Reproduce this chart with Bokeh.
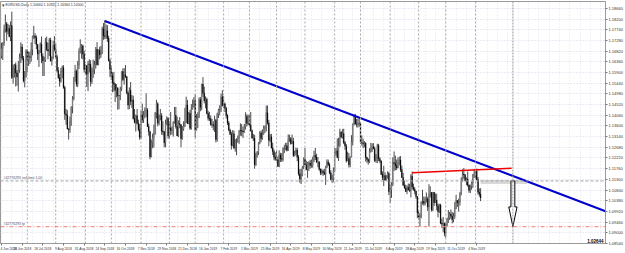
from bokeh.plotting import figure
from bokeh.models import Range1d, FixedTicker, PrintfTickFormatter, Span, Label
from bokeh.embed import file_html
from bokeh.resources import INLINE
from bokeh.core.properties import value

# ---- EURUSD daily bars, values in pips above 1.0000 (e.g. 1694 -> 1.1694) ----
opens = [
 1660,1694,1716,1774,1800,1767,1780,1745,1792,1569,1608,1623,1588,1571,1600,1655,1700,1651,1555,1570,
 1684,1645,1658,1656,1688,1746,1747,1740,1711,1670,1685,1712,1660,1641,1644,1720,1689,1683,1730,1640,1656,1707,
 1690,1658,1598,1568,1553,1595,1611,1526,1411,1406,1347,1343,1378,1440,1478,1569,1596,1540,1622,1680,1700,1705,1670,
 1603,1620,1583,1627,1625,1551,1595,1602,1625,1690,1624,1686,1667,1673,1778,1748,1746,1770,1738,1641,
 1604,1576,1547,1539,1514,1524,1491,1490,1520,1594,1560,1580,1572,1502,1450,1514,1465,1472,1391,1375,1404,1371,1345,
 1311,1408,1387,1408,1428,1429,1358,1335,1227,1288,1310,1328,1415,1455,1372,1400,1404,1338,1334,1288,1371,1392,
 1317,1352,1340,1342,1375,1406,1357,1317,1370,1365,1306,1347,1360,1376,1450,1370,1414,1350,1433,1444,
 1468,1342,1393,1397,1473,1440,1540,1501,1468,1475,1413,1393,1391,1365,1366,1361,1384,1302,1409,1429,1432,1485,
 1447,1455,1436,1405,1373,1342,1324,1276,1326,1265,1295,1295,1310,1341,1340,1338,1334,1358,1401,1371,
 1370,1364,1339,1307,1307,1193,1235,1246,1287,1330,1306,1325,1351,1352,1417,1373,1298,1313,1266,1250,1225,
 1217,1214,1186,1235,1219,1216,1262,1263,1275,1255,1302,1305,1284,1294,1233,1246,1256,1225,1154,1131,1150,1183,
 1217,1193,1171,1200,1200,1190,1191,1215,1233,1226,1205,1205,1173,1157,1166,1159,1152,1183,1205,1193,1158,1130,1130,
 1167,1242,1253,1224,1276,1333,1312,1327,1288,1273,1210,1220,1193,1226,1293,1369,1400,1368,1367,1372,
 1371,1288,1287,1284,1285,1224,1215,1208,1252,1259,1270,1262,1210,1226,1276,1219,1209,1151,1138,1146,1127,1143,1155,
 1077,1085,1108,1202,1198,1189,1180,1202,1213,1172,1138,1105,1092,1078,1096,1084,1082,1143,1097,1087,1079,1056,
 986,968,972,1034,1034,1027,1045,1045,1011,1065,1073,999,1074,1029,1041,1016,991,1019,941,937,940,
 898,933,958,965,981,971,956,972,1004,1039,1029,1032,1069,1125,1153,1149,1125,1131,1105,1082,1100,1114,1150,
 1152,1165,1128,1074,1066,
]
highs = [
 1718,1721,1796,1840,1808,1800,1795,1810,1852,1624,1627,1633,1600,1640,1672,1720,1713,1661,1596,1690,
 1690,1680,1679,1720,1749,1791,1759,1750,1712,1686,1720,1745,1673,1658,1739,1745,1718,1739,1740,1659,1727,1747,
 1715,1667,1613,1583,1610,1620,1622,1533,1433,1428,1350,1400,1445,1488,1570,1623,1603,1640,1694,1733,1713,1710,1683,
 1625,1622,1640,1647,1643,1612,1646,1640,1700,1721,1690,1701,1705,1788,1803,1815,1797,1794,1748,1650,
 1621,1591,1593,1545,1540,1526,1493,1529,1595,1608,1609,1622,1575,1509,1526,1549,1493,1490,1433,1409,1433,1387,1368,
 1425,1456,1424,1440,1500,1437,1370,1339,1301,1327,1366,1420,1472,1462,1410,1433,1415,1380,1339,1387,1401,1398,
 1380,1420,1357,1380,1442,1442,1400,1384,1398,1368,1360,1380,1438,1486,1472,1420,1429,1454,1474,1484,
 1497,1411,1419,1483,1484,1541,1570,1529,1487,1482,1425,1420,1405,1391,1380,1404,1390,1417,1434,1449,1499,1514,
 1488,1461,1442,1410,1381,1348,1335,1342,1340,1303,1307,1319,1341,1371,1368,1357,1368,1419,1410,1408,
 1408,1420,1345,1325,1322,1245,1252,1290,1337,1340,1345,1362,1362,1448,1448,1386,1325,1326,1288,1259,1246,
 1255,1228,1255,1244,1243,1268,1279,1287,1288,1324,1322,1312,1323,1309,1253,1266,1266,1234,1174,1175,1187,1225,
 1265,1210,1205,1208,1214,1215,1228,1253,1265,1240,1226,1208,1177,1175,1172,1175,1188,1216,1215,1201,1170,1150,1181,
 1264,1265,1306,1309,1348,1337,1346,1348,1295,1282,1249,1243,1229,1320,1370,1410,1412,1390,1392,1392,
 1376,1319,1305,1295,1290,1227,1220,1264,1287,1285,1286,1271,1239,1283,1283,1226,1212,1164,1188,1160,1148,1165,1162,
 1107,1117,1225,1250,1232,1215,1224,1228,1230,1189,1158,1125,1107,1104,1112,1111,1152,1164,1111,1096,1081,1057,
 998,983,1034,1085,1056,1055,1073,1055,1109,1100,1075,1075,1075,1069,1068,1025,1025,1025,961,968,944,
 942,964,998,990,1000,989,986,1032,1063,1040,1047,1076,1139,1173,1179,1153,1138,1164,1108,1107,1120,1153,1175,
 1175,1176,1140,1091,1092,
]
lows = [
 1650,1644,1705,1762,1727,1755,1742,1725,1562,1542,1568,1530,1533,1508,1589,1631,1642,1547,1526,1570,
 1591,1618,1627,1637,1664,1734,1712,1690,1644,1614,1674,1630,1575,1575,1636,1683,1647,1661,1637,1620,1647,1681,
 1651,1590,1563,1529,1546,1565,1520,1386,1365,1345,1301,1330,1360,1414,1470,1550,1529,1527,1605,1672,1650,1647,1590,
 1580,1528,1510,1590,1530,1541,1567,1583,1607,1620,1621,1647,1653,1670,1731,1734,1734,1722,1638,1570,
 1558,1505,1508,1463,1483,1430,1432,1471,1510,1553,1538,1567,1496,1431,1432,1449,1437,1388,1371,1336,1366,1337,1300,
 1304,1373,1373,1393,1398,1355,1318,1216,1225,1264,1267,1322,1392,1358,1363,1384,1322,1320,1268,1268,1363,1305,
 1305,1320,1322,1314,1370,1348,1316,1312,1350,1268,1300,1339,1355,1373,1369,1367,1343,1344,1430,1439,
 1309,1340,1351,1395,1423,1428,1485,1457,1436,1410,1383,1381,1361,1352,1341,1334,1289,1292,1394,1406,1420,1444,
 1436,1420,1392,1364,1337,1321,1258,1272,1260,1249,1234,1287,1283,1318,1316,1308,1330,1345,1358,1363,
 1354,1336,1306,1295,1176,1188,1223,1235,1281,1290,1300,1322,1330,1336,1366,1272,1290,1262,1235,1212,1210,
 1210,1184,1182,1205,1205,1207,1243,1255,1250,1252,1292,1279,1282,1226,1229,1233,1208,1146,1115,1110,1143,1174,
 1191,1170,1136,1166,1176,1180,1180,1204,1213,1200,1182,1167,1148,1150,1144,1149,1106,1179,1187,1152,1126,1115,1118,
 1160,1232,1221,1209,1270,1306,1306,1282,1257,1202,1208,1181,1182,1225,1276,1362,1366,1354,1353,1357,
 1282,1275,1264,1268,1207,1201,1193,1200,1245,1248,1260,1205,1201,1200,1208,1200,1149,1127,1101,1123,1125,1133,1062,
 1027,1050,1101,1166,1169,1170,1178,1190,1162,1136,1102,1091,1076,1066,1082,1075,1052,1085,1081,1066,1046,963,
 956,926,962,1021,1016,1018,1030,994,927,1052,991,993,1015,1028,997,966,985,937,921,904,885,
 879,926,942,955,960,940,945,960,1002,1011,991,1017,1061,1120,1132,1120,1105,1098,1072,1071,1085,1093,1136,
 1132,1127,1064,1055,1036,
]
closes = [
 1694,1716,1774,1800,1767,1780,1745,1792,1569,1608,1623,1588,1571,1600,1655,1700,1651,1555,1570,1684,
 1645,1658,1656,1688,1746,1747,1740,1711,1670,1685,1712,1660,1641,1644,1720,1689,1683,1730,1640,1656,1707,1690,
 1658,1598,1568,1553,1595,1611,1526,1411,1406,1347,1343,1378,1440,1478,1569,1596,1540,1622,1680,1700,1705,1670,1603,
 1620,1583,1627,1625,1551,1595,1602,1625,1690,1624,1686,1667,1673,1778,1748,1746,1770,1738,1641,1604,
 1576,1547,1539,1514,1524,1491,1490,1520,1594,1560,1580,1572,1502,1450,1514,1465,1472,1391,1375,1404,1371,1345,1311,
 1408,1387,1408,1428,1429,1358,1335,1227,1288,1310,1328,1415,1455,1372,1400,1404,1338,1334,1288,1371,1392,1317,
 1352,1340,1342,1375,1406,1357,1317,1370,1365,1306,1347,1360,1376,1450,1370,1414,1350,1433,1444,1468,
 1342,1393,1397,1473,1440,1540,1501,1468,1475,1413,1393,1391,1365,1366,1361,1384,1302,1409,1429,1432,1485,1447,
 1455,1436,1405,1373,1342,1324,1276,1326,1265,1295,1295,1310,1341,1340,1338,1334,1358,1401,1371,1370,
 1364,1339,1307,1307,1193,1235,1246,1287,1330,1306,1325,1351,1352,1417,1373,1298,1313,1266,1250,1225,1217,
 1214,1186,1235,1219,1216,1262,1263,1275,1255,1302,1305,1284,1294,1233,1246,1256,1225,1154,1131,1150,1183,1217,
 1193,1171,1200,1200,1190,1191,1215,1233,1226,1205,1205,1173,1157,1166,1159,1152,1183,1205,1193,1158,1130,1130,1167,
 1242,1253,1224,1276,1333,1312,1327,1288,1273,1210,1220,1193,1226,1293,1369,1400,1368,1367,1372,1371,
 1288,1287,1284,1285,1224,1215,1208,1252,1259,1270,1262,1210,1226,1276,1219,1209,1151,1138,1146,1127,1143,1155,1077,
 1085,1108,1202,1198,1189,1180,1202,1213,1172,1138,1105,1092,1078,1096,1084,1082,1143,1097,1087,1079,1056,986,
 968,972,1034,1034,1027,1045,1045,1011,1065,1073,999,1074,1029,1041,1016,991,1019,941,937,940,898,
 933,958,965,981,971,956,972,1004,1039,1029,1032,1069,1125,1153,1149,1125,1131,1105,1082,1100,1114,1150,1152,
 1165,1128,1074,1066,1050,
]

# time axis (bar index) labels, MT4 style
date_label_bars = [0, 16, 32, 48, 64, 80, 96, 112, 128, 144, 160, 176, 192, 208, 224, 240,
                   256, 272, 288, 304, 320, 336, 352, 368]
date_labels = ["4 Jun 2018", "26 Jun 2018", "18 Jul 2018", "9 Aug 2018", "31 Aug 2018", "24 Sep 2018",
               "16 Oct 2018", "7 Nov 2018", "29 Nov 2018", "21 Dec 2018", "16 Jan 2019", "7 Feb 2019",
               "1 Mar 2019", "25 Mar 2019", "16 Apr 2019", "8 May 2019", "30 May 2019", "21 Jun 2019",
               "15 Jul 2019", "6 Aug 2019", "28 Aug 2019", "19 Sep 2019", "11 Oct 2019", "4 Nov 2019"]
month_start_bars = [20, 42, 65, 85, 108, 130, 150, 172, 192, 213, 235, 258, 278, 301, 323, 344, 367]
fine_grid_bars = list(range(0, 472, 8))
price_ticks = [1.18660, 1.18200, 1.17740, 1.17280, 1.16820, 1.16360, 1.15900, 1.15440, 1.14980,
               1.14520, 1.14060, 1.13600, 1.13140, 1.12680, 1.12220, 1.11760, 1.11300, 1.10840,
               1.10380, 1.09920, 1.09460, 1.09000, 1.08540]

# drawn objects
blue_bars = [80, 274]
blue_prices = [1.1812, 1.1402]
red_bars = [318, 395]
red_prices = [1.1158, 1.1178]
sell_limit_price = 1.1123
take_profit_price = 1.0926
order_ticket = "#42776293"
arrow_bar = 396
vline_bar = 396
zone_bars = [371, 407]
zone_prices = [1.1110, 1.1127]
corner_text = "1.02644"

X0, X1 = -0.77, 467.7
Y0, Y1 = 1.08536, 1.18959
FONT = value("Liberation Sans")

p = figure(width=625, height=253, x_range=Range1d(X0, X1), y_range=Range1d(Y0, Y1),
           output_backend="svg", toolbar_location=None, y_axis_location="right",
           min_border_left=0, min_border_right=16, min_border_top=1, min_border_bottom=7,
           background_fill_color="white", border_fill_color="white")
p.outline_line_color = "#9a9a9a"

# axes
xa = p.xaxis[0]
xa.ticker = FixedTicker(ticks=date_label_bars)
xa.major_label_overrides = {b: s for b, s in zip(date_label_bars, date_labels)}
xa.major_label_text_align = "left"
xa.major_label_text_font_size = "3.3px"
xa.major_label_text_font = "Liberation Sans"
xa.major_label_text_color = "#333333"
xa.major_label_standoff = 1
xa.major_tick_out = 2
xa.major_tick_in = 0
xa.minor_tick_out = 0
xa.minor_tick_in = 0
xa.axis_line_color = "#9a9a9a"
xa.major_tick_line_color = "#777777"

ya = p.yaxis[0]
ya.ticker = FixedTicker(ticks=price_ticks)
ya.formatter = PrintfTickFormatter(format="%.5f")
ya.major_label_text_font_size = "4px"
ya.major_label_text_font = "Liberation Sans"
ya.major_label_text_color = "#333333"
ya.major_label_standoff = 1
ya.major_tick_out = 2
ya.major_tick_in = 0
ya.minor_tick_out = 0
ya.minor_tick_in = 0
ya.axis_line_color = "#9a9a9a"
ya.major_tick_line_color = "#777777"

# grid
p.ygrid.grid_line_color = "#d6d6ec"
p.ygrid.grid_line_dash = "1 2"
p.xgrid.ticker = FixedTicker(ticks=fine_grid_bars)
p.xgrid.grid_line_color = "#e2e2f2"
p.xgrid.grid_line_dash = "1 2"

for b in month_start_bars:
    p.add_layout(Span(location=b, dimension="height", line_color="#a8a8a8",
                      line_dash="2 2", line_width=1))
p.add_layout(Span(location=vline_bar, dimension="height", line_color="#9a9a9a",
                  line_dash="2 1", line_width=1))

# candles
n = min(len(opens), len(highs), len(lows), len(closes))
idx = list(range(n))
O = [1 + v / 10000 for v in opens[:n]]
H = [1 + v / 10000 for v in highs[:n]]
L = [1 + v / 10000 for v in lows[:n]]
C = [1 + v / 10000 for v in closes[:n]]
up = [i for i in idx if C[i] >= O[i]]
dn = [i for i in idx if C[i] < O[i]]

p.segment(x0=idx, y0=L, x1=idx, y1=H, line_color="#1e1e1e", line_width=0.8)
p.vbar(x=up, width=0.62, top=[C[i] for i in up], bottom=[O[i] for i in up],
       fill_color="#b4b4b4", line_color="#3a3a3a", line_width=0.3)
p.vbar(x=dn, width=0.62, top=[O[i] for i in dn], bottom=[C[i] for i in dn],
       fill_color="#000000", line_color="#000000", line_width=0.3)

# order levels
p.add_layout(Span(location=sell_limit_price, dimension="width", line_color="#a0a0a0",
                  line_dash="3 2", line_width=1))
p.add_layout(Span(location=take_profit_price, dimension="width", line_color="#f07a7a",
                  line_dash="4 2 1 2", line_width=1))
px_bar = (X1 - X0) / 609.0
px_price = (Y1 - Y0) / 245.0
p.text(x=[X0 + 3 * px_bar, X0 + 3 * px_bar],
       y=[sell_limit_price + 1 * px_price, take_profit_price + 1 * px_price],
       text=[order_ticket + " sell limit 1.00", order_ticket + " tp"],
       text_font=FONT, text_font_size="3.5px", text_color="#555555",
       text_baseline="bottom", text_align="left")

# zone rectangle
p.quad(left=[zone_bars[0]], right=[zone_bars[1]], bottom=[zone_prices[0]], top=[zone_prices[1]],
       fill_color="#d9d9d9", line_color=None)

# trend lines
slope = (blue_prices[1] - blue_prices[0]) / (blue_bars[1] - blue_bars[0])
p.line(x=[blue_bars[0], X1], y=[blue_prices[0], blue_prices[0] + slope * (X1 - blue_bars[0])],
       line_color="#0000cc", line_width=2)
p.line(x=red_bars, y=red_prices, line_color="#ee0000", line_width=1.5)

# hollow arrow from the sell limit level down to the take profit level
shaft_hw = 1.5
head_hw = 3.2
head_len = 20 * px_price
top_p = sell_limit_price
tip_p = take_profit_price
neck_p = tip_p + head_len
ax = [arrow_bar - shaft_hw, arrow_bar + shaft_hw, arrow_bar + shaft_hw, arrow_bar + head_hw,
      arrow_bar, arrow_bar - head_hw, arrow_bar - shaft_hw]
ay = [top_p, top_p, neck_p, neck_p, tip_p, neck_p, neck_p]
p.patch(x=ax, y=ay, fill_color="white", line_color="black", line_width=1)

# title / OHLC line
last = n - 1
title = "EURUSD,Daily  %.5f %.5f %.5f %.5f" % (O[last], H[last], L[last], C[last])
p.text(x=[X0 + 5 * px_bar], y=[Y1 - 4 * px_price], text=[title], text_font=FONT,
       text_font_size="3.5px", text_color="#333333", text_baseline="middle", text_align="left")
p.text(x=[X0 + 1.5 * px_bar], y=[Y1 - 4 * px_price], text=["\u25be"], text_font=value("DejaVu Sans"),
       text_font_size="5px", text_color="#333333", text_baseline="middle", text_align="left")

# bottom-right corner value
p.text(x=[X1 - 2 * px_bar], y=[Y0 + 3 * px_price], text=[corner_text], text_font=FONT,
       text_font_size="4.5px", text_font_style="bold", text_color="#000000",
       text_baseline="middle", text_align="right")

# current price marker on the price scale
p.add_layout(Label(x=X1 + 1 * px_bar, y=C[last], text="%.5f" % C[last], text_font="Liberation Sans",
                   text_font_size="4px", text_color="white", background_fill_color="black",
                   text_baseline="middle", text_align="left"))

open("out.html", "w").write(file_html(p, INLINE))
